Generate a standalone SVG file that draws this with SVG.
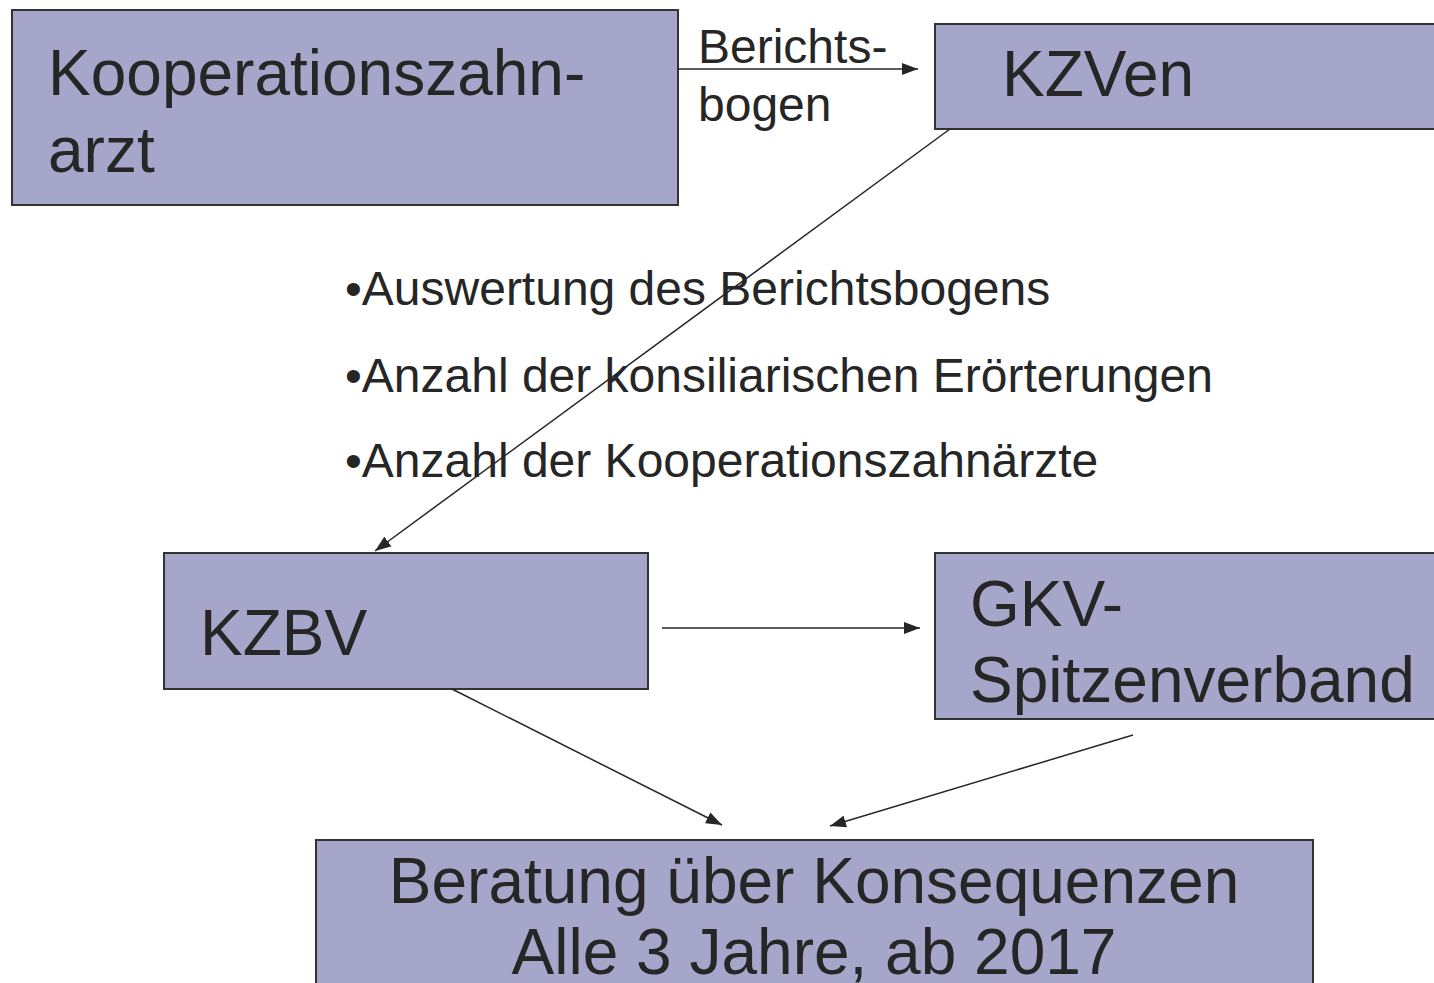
<svg xmlns="http://www.w3.org/2000/svg" width="1434" height="983" viewBox="0 0 1434 983">
<style>
.box{fill:#a6a6cb;stroke:#333;stroke-width:2}
.t{font-family:"Liberation Sans",Arial,sans-serif;fill:#262626}
.big{font-size:64px}
.mid{font-size:48px}
.ln{stroke:#262626;stroke-width:1.5;fill:none}
</style>
<defs>
<marker id="ah2" viewBox="0 0 16 12" refX="16" refY="6" markerWidth="16" markerHeight="12" markerUnits="userSpaceOnUse" orient="auto">
<path d="M0,0 L16,6 L0,12 Z" fill="#262626"/>
</marker>
</defs>
<g id="n1"><rect class="box" x="12" y="10" width="666" height="195"/>
<text class="t big" x="48" y="95">Kooperationszahn-</text>
<text class="t big" x="48" y="172">arzt</text></g>
<g id="n2"><rect class="box" x="935" y="24" width="510" height="105"/>
<text class="t big" x="1002" y="96">KZVen</text></g>
<g id="n3"><rect class="box" x="164" y="553" width="484" height="136"/>
<text class="t big" x="200" y="655">KZBV</text></g>
<g id="n4"><rect class="box" x="935" y="553" width="510" height="166"/>
<text class="t big" x="970" y="626">GKV-</text>
<text class="t big" x="970" y="702">Spitzenverband</text></g>
<g id="n5"><rect class="box" x="316" y="840" width="997" height="160"/>
<text class="t big" x="814" y="903" text-anchor="middle">Beratung über Konsequenzen</text>
<text class="t big" x="814" y="974" text-anchor="middle">Alle 3 Jahre, ab 2017</text></g>
<g id="labels">
<text class="t mid" x="698" y="63">Berichts-</text>
<text class="t mid" x="698" y="121">bogen</text>
<text class="t mid" x="345" y="305">•Auswertung des Berichtsbogens</text>
<text class="t mid" x="345" y="392">•Anzahl der konsiliarischen Erörterungen</text>
<text class="t mid" x="345" y="477">•Anzahl der Kooperationszahnärzte</text>
</g>
<g id="connectors">
<line class="ln" x1="678" y1="69" x2="918" y2="69" marker-end="url(#ah2)"/>
<line class="ln" x1="950" y1="129" x2="375" y2="551" marker-end="url(#ah2)"/>
<line class="ln" x1="662" y1="628" x2="920" y2="628" marker-end="url(#ah2)"/>
<line class="ln" x1="452" y1="689" x2="722" y2="825" marker-end="url(#ah2)"/>
<line class="ln" x1="1133" y1="735" x2="830" y2="826" marker-end="url(#ah2)"/>
</g>
</svg>
